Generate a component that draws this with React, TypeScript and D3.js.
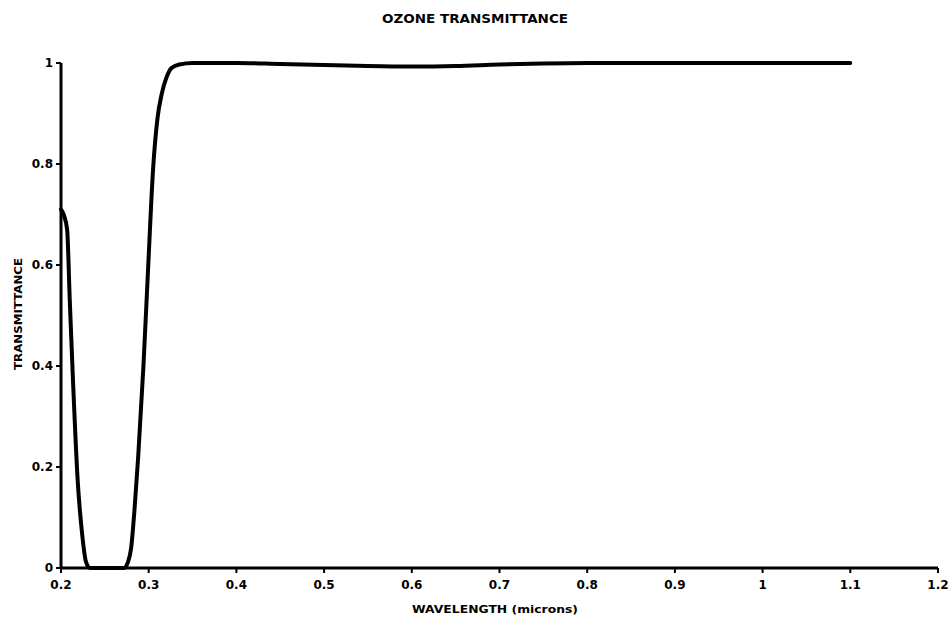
import { useEffect, useRef } from "react";
import * as d3 from "d3";

// wavelength (microns)
const wavelength = [
  0.2, 0.203, 0.207, 0.21, 0.2137, 0.219, 0.224, 0.2285, 0.233, 0.25, 0.272,
  0.276, 0.28, 0.284, 0.288, 0.294, 0.2995, 0.305, 0.31, 0.315, 0.32, 0.326,
  0.335, 0.35, 0.4, 0.45, 0.5, 0.55, 0.6, 0.65, 0.7, 0.75, 0.8, 0.9, 1.0, 1.1,
];
const transmittance = [
  0.71, 0.7, 0.67, 0.53, 0.37, 0.174, 0.069, 0.012, 0, 0, 0, 0.01, 0.04, 0.12,
  0.22, 0.4, 0.6, 0.79, 0.89, 0.94, 0.97, 0.99, 0.997, 1.0, 1.0, 0.998, 0.996,
  0.994, 0.993, 0.994, 0.997, 0.999, 1.0, 1.0, 1.0, 1.0,
];
const xTicks = [0.2, 0.3, 0.4, 0.5, 0.6, 0.7, 0.8, 0.9, 1, 1.1, 1.2];
const yTicks = [0, 0.2, 0.4, 0.6, 0.8, 1];

const FONT = "'DejaVu Sans', sans-serif";

function App() {
  const ref = useRef<SVGSVGElement>(null);

  useEffect(() => {
    if (!ref.current) return;
    const svg = d3.select(ref.current);
    svg.selectAll("*").remove();

    const x = d3.scaleLinear().domain([0.2, 1.2]).range([61, 938]);
    const y = d3.scaleLinear().domain([0, 1]).range([568, 63]);

    // 标题
    svg
      .append("text")
      .attr("x", 475)
      .attr("y", 23)
      .attr("text-anchor", "middle")
      .attr("textLength", 186)
      .attr("lengthAdjust", "spacingAndGlyphs")
      .style("font-family", FONT)
      .style("font-size", "12px")
      .style("font-weight", "900")
      .text("OZONE TRANSMITTANCE");

    // x 轴
    const xAxis = svg.append("g").attr("transform", `translate(0,${y(0)})`);
    xAxis
      .append("line")
      .attr("x1", x(0.2))
      .attr("x2", x(1.2))
      .style("stroke", "#000")
      .style("stroke-width", 3);
    xTicks.forEach((t) => {
      xAxis
        .append("line")
        .attr("x1", x(t))
        .attr("x2", x(t))
        .attr("y1", 0)
        .attr("y2", 5)
        .style("stroke", "#000")
        .style("stroke-width", 2);
      xAxis
        .append("text")
        .attr("x", x(t))
        .attr("y", 21)
        .attr("text-anchor", "middle")
        .style("font-family", FONT)
        .style("font-size", "12px")
        .style("font-weight", "bold")
        .text(String(t));
    });

    // y 轴
    const yAxis = svg.append("g").attr("transform", `translate(${x(0.2)},0)`);
    yAxis
      .append("line")
      .attr("y1", y(0))
      .attr("y2", y(1))
      .style("stroke", "#000")
      .style("stroke-width", 3);
    yTicks.forEach((t) => {
      yAxis
        .append("line")
        .attr("x1", -5)
        .attr("x2", 0)
        .attr("y1", y(t))
        .attr("y2", y(t))
        .style("stroke", "#000")
        .style("stroke-width", 2);
      yAxis
        .append("text")
        .attr("x", -8)
        .attr("y", y(t))
        .attr("dy", "0.35em")
        .attr("text-anchor", "end")
        .style("font-family", FONT)
        .style("font-size", "12px")
        .style("font-weight", "bold")
        .text(String(t));
    });

    // 轴标题
    svg
      .append("text")
      .attr("x", 495)
      .attr("y", 613)
      .attr("text-anchor", "middle")
      .attr("textLength", 166)
      .attr("lengthAdjust", "spacingAndGlyphs")
      .style("font-family", FONT)
      .style("font-size", "11px")
      .style("font-weight", "900")
      .text("WAVELENGTH (microns)");

    svg
      .append("text")
      .attr("transform", "translate(22,314) rotate(-90)")
      .attr("text-anchor", "middle")
      .attr("textLength", 112)
      .attr("lengthAdjust", "spacingAndGlyphs")
      .style("font-family", FONT)
      .style("font-size", "11px")
      .style("font-weight", "900")
      .text("TRANSMITTANCE");

    // 透射率曲线
    const pts: [number, number][] = wavelength.map((w, i) => [w, transmittance[i]]);
    const line = d3
      .line<[number, number]>()
      .x((d) => x(d[0]))
      .y((d) => y(d[1]))
      .curve(d3.curveMonotoneX);
    svg
      .append("path")
      .attr("d", line(pts))
      .style("fill", "none")
      .style("stroke", "#000")
      .style("stroke-width", 4)
      .style("stroke-linejoin", "round")
      .style("stroke-linecap", "round");
  }, []);

  return (
    <div style={{ position: "absolute", left: 0, top: 0 }}>
      <svg ref={ref} width={951} height={621} style={{ display: "block", background: "#fff" }} />
    </div>
  );
}

export default App;
